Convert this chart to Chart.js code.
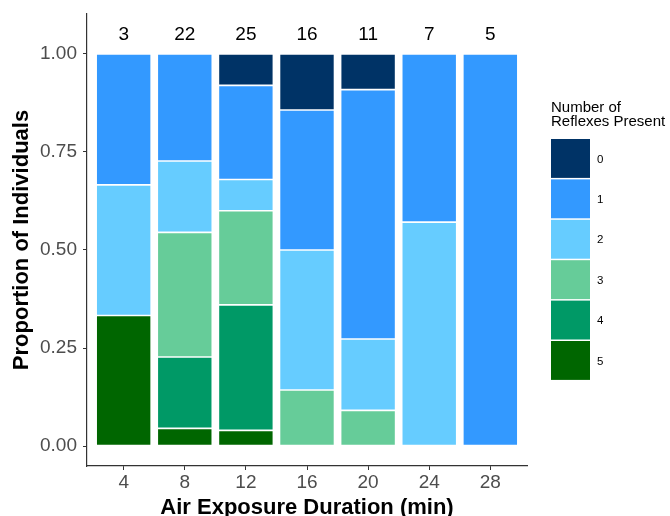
<!DOCTYPE html>
<html>
<head>
<meta charset="utf-8">
<script src="https://cdn.jsdelivr.net/npm/chart.js@4"></script>
<style>
html,body{margin:0;padding:0;background:#fff;}
#wrap{width:670px;height:516px;position:relative;}
</style>
</head>
<body>
<div id="wrap"><canvas id="c" width="670" height="516"></canvas></div>
<script>
// Categories and counts
const categories = ['4', '8', '12', '16', '20', '24', '28'];
const sampleSizes = ['3', '22', '25', '16', '11', '7', '5'];
const reflexLevels = ['0', '1', '2', '3', '4', '5'];
const yTicks = [0, 0.25, 0.5, 0.75, 1.0];

// Proportions for each number of reflexes present (null = absent)
const reflex5 = [0.333, 0.045, 0.04, null, null, null, null];
const reflex4 = [null, 0.182, 0.32, null, null, null, null];
const reflex3 = [null, 0.318, 0.24, 0.143, 0.091, null, null];
const reflex2 = [0.333, 0.182, 0.08, 0.357, 0.182, 0.571, null];
const reflex1 = [0.334, 0.273, 0.24, 0.357, 0.636, 0.429, 1.0];
const reflex0 = [null, null, 0.08, 0.143, 0.091, null, null];

const colors = {
  '0': '#003366', '1': '#3399FF', '2': '#66CCFF',
  '3': '#66CC99', '4': '#009966', '5': '#006600'
};

const seriesByLevel = { '5': reflex5, '4': reflex4, '3': reflex3, '2': reflex2, '1': reflex1, '0': reflex0 };
const stackOrder = ['5', '4', '3', '2', '1', '0'];

const datasets = stackOrder.map(k => ({
  label: k,
  data: seriesByLevel[k].map((v, i) => ({ x: i, y: v })),
  backgroundColor: colors[k],
  borderColor: '#ffffff',
  borderWidth: 0.8,
  borderSkipped: false,
  barPercentage: 0.9,
  categoryPercentage: 1.0
}));

const countLabelY = 1.048;
const FONT = '"Liberation Sans", Arial, sans-serif';

const overlay = {
  id: 'overlay',
  afterDatasetsDraw(chart) {
    const ctx = chart.ctx;
    const xs = chart.scales.x, ys = chart.scales.y;
    ctx.save();
    ctx.fillStyle = '#000';
    ctx.font = '19px ' + FONT;
    ctx.textAlign = 'center';
    ctx.textBaseline = 'middle';
    sampleSizes.forEach((s, i) => {
      ctx.fillText(s, xs.getPixelForValue(i), ys.getPixelForValue(countLabelY));
    });
    // Legend
    const lx = 551, ly = 139, kw = 39, kh = 40.4;
    ctx.textAlign = 'left';
    ctx.textBaseline = 'alphabetic';
    ctx.font = '15px ' + FONT;
    ctx.fillText('Number of', 551, 112);
    ctx.fillText('Reflexes Present', 551, 126);
    ctx.textBaseline = 'middle';
    ctx.font = '11.5px ' + FONT;
    reflexLevels.forEach((k, i) => {
      const y = ly + i * kh;
      ctx.fillStyle = colors[k];
      ctx.fillRect(lx, y, kw, kh - 1.5);
      ctx.fillStyle = '#000';
      ctx.fillText(k, 597, y + (kh - 1.5) / 2 + 1);
    });
    ctx.restore();
  }
};

new Chart(document.getElementById('c'), {
  type: 'bar',
  data: { datasets },
  options: {
    responsive: false,
    animation: false,
    parsing: { xAxisKey: 'x', yAxisKey: 'y' },
    layout: { padding: { left: 0, right: 143, top: 14, bottom: 0 } },
    plugins: { legend: { display: false }, tooltip: { enabled: false } },
    scales: {
      x: {
        type: 'linear',
        stacked: true,
        offset: false,
        min: -0.6,
        max: 6.6,
        afterBuildTicks(scale) { scale.ticks = categories.map((c, i) => ({ value: i })); },
        grid: { display: true, offset: false, drawOnChartArea: false, drawTicks: true, tickLength: 4, color: '#333333' },
        border: { display: true, color: '#333333', width: 1.2 },
        ticks: { color: '#4D4D4D', font: { size: 19, family: FONT }, padding: 1, maxRotation: 0, autoSkip: false,
                 callback: (v) => categories[Math.round(v)] },
        title: { display: true, text: 'Air Exposure Duration (min)', color: '#000', font: { size: 22, weight: 'bold', family: FONT, lineHeight: 1 }, padding: { top: 0, bottom: -3 } },
        afterFit(scale) { scale.height = 50; }
      },
      y: {
        stacked: true,
        min: -0.051,
        max: 1.102,
        afterBuildTicks(scale) { scale.ticks = yTicks.map(v => ({ value: v })); },
        grid: { display: true, drawOnChartArea: false, drawTicks: true, tickLength: 4, color: '#333333' },
        border: { display: true, color: '#333333', width: 1.2 },
        ticks: { color: '#4D4D4D', font: { size: 19, family: FONT, lineHeight: 0.5 }, padding: 6, callback: v => Number(v).toFixed(2) },
        title: { display: true, text: 'Proportion of Individuals', color: '#000', font: { size: 22, weight: 'bold', family: FONT }, padding: { top: 9, bottom: 0 } },
        afterFit(scale) { scale.width = 87; }
      }
    }
  },
  plugins: [overlay]
});
</script>
</body>
</html>
